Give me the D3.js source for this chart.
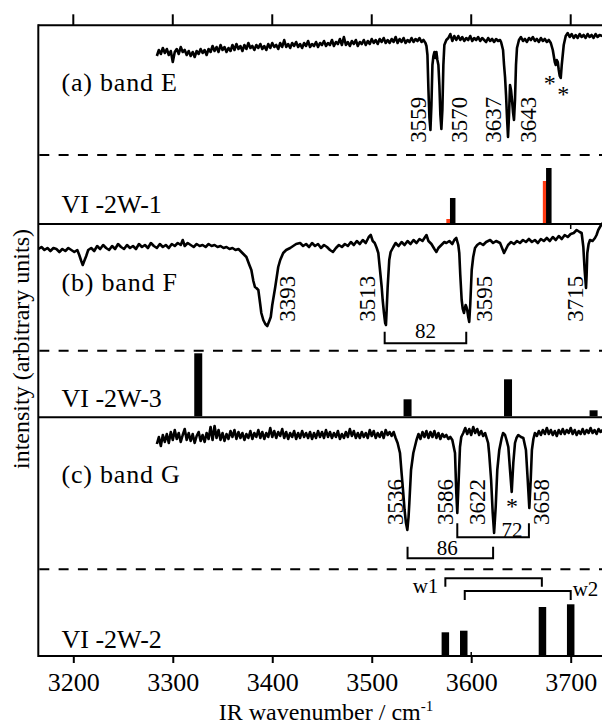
<!DOCTYPE html>
<html>
<head>
<meta charset="utf-8">
<script src="https://cdn.jsdelivr.net/npm/d3@7"></script>
<style>
  body { margin: 0; background: #fff; }
  text { font-family: "Liberation Serif", "Times New Roman", serif; fill: #000; }
</style>
</head>
<body>
<div id="chart"></div>
<script>
// 1: DATA
const xTicks = [3200, 3300, 3400, 3500, 3600, 3700];

// band E spectrum [wavenumber, intensity]
const bandE = [
  [3284,84],[3286,90],[3288,86],[3290,92],[3292,87],[3294,91],[3296,85],[3298,89],[3300,78],[3302,88],
  [3304,91],[3306,86],[3308,93],[3310,88],[3312,90],[3314,85],[3316,89],[3318,84],[3320,88],[3322,83],
  [3324,89],[3326,86],[3328,91],[3330,87],[3332,90],[3334,85],[3336,91],[3338,88],[3340,94],[3342,89],
  [3344,93],[3346,88],[3348,95],[3350,90],[3352,93],[3354,88],[3356,92],[3358,89],[3360,95],[3362,90],
  [3364,96],[3366,91],[3368,94],[3370,89],[3372,95],[3374,91],[3376,97],[3378,92],[3380,94],[3382,90],
  [3384,95],[3386,92],[3388,96],[3390,91],[3392,94],[3394,90],[3396,96],[3398,92],[3400,97],[3402,93],
  [3404,95],[3406,91],[3408,97],[3410,93],[3412,100],[3414,93],[3416,96],[3418,92],[3420,97],[3422,94],
  [3424,98],[3426,93],[3428,96],[3430,92],[3432,97],[3434,94],[3436,99],[3438,93],[3440,96],[3442,94],
  [3444,98],[3446,93],[3448,97],[3450,95],[3452,99],[3454,94],[3456,97],[3458,95],[3460,100],[3462,94],
  [3464,98],[3466,96],[3468,101],[3470,95],[3472,103],[3474,95],[3476,98],[3478,94],[3480,99],[3482,96],
  [3484,100],[3486,94],[3488,98],[3490,96],[3492,100],[3494,95],[3496,99],[3498,96],[3500,101],[3502,97],
  [3504,100],[3506,96],[3508,101],[3510,98],[3512,102],[3514,97],[3516,100],[3518,97],[3520,101],[3522,98],
  [3524,103],[3526,97],[3528,101],[3530,98],[3532,102],[3534,97],[3536,100],[3538,98],[3540,102],[3542,98],
  [3544,101],[3546,99],[3548,102],[3550,98],[3552,100],[3554,97],[3555,94],[3556,85],[3557,50],[3558,22],
  [3559,10],[3560,35],[3561,75],[3562,84],[3563,88],[3564,82],[3565,88],[3566,80],[3567,75],[3568,55],
  [3569,25],[3570,11],[3571,30],[3572,75],[3573,95],[3575,100],[3577,102],[3579,106],[3581,99],[3583,104],
  [3585,100],[3587,104],[3589,100],[3591,103],[3593,99],[3595,102],[3597,100],[3599,104],[3601,99],[3603,102],
  [3605,100],[3607,103],[3609,99],[3611,102],[3613,100],[3615,98],[3617,102],[3619,99],[3621,101],[3623,98],
  [3625,101],[3627,99],[3629,100],[3630,98],[3632,90],[3633,75],[3634,63],[3635,45],[3636,22],[3637,3],
  [3638,25],[3639,55],[3640,50],[3641,40],[3642,28],[3643,20],[3644,40],[3645,75],[3646,92],[3648,100],
  [3650,103],[3652,99],[3654,101],[3656,98],[3658,102],[3660,100],[3662,103],[3664,99],[3666,101],[3668,98],
  [3670,102],[3672,99],[3674,101],[3676,98],[3678,100],[3680,97],[3682,90],[3684,78],[3685,75],[3686,80],
  [3687,78],[3688,70],[3689,64],[3690,62],[3691,75],[3693,95],[3695,104],[3697,107],[3699,103],[3701,106],
  [3703,102],[3705,105],[3707,102],[3709,106],[3711,103],[3713,105],[3715,102],[3717,106],[3719,103],[3721,105],
  [3723,102],[3725,106],[3727,103],[3729,105],[3732,104]
];

// band F spectrum
const bandF = [
  [3165,96],[3168,98],[3171,95],[3174,97],[3177,94],[3180,97],[3183,96],[3186,93],[3189,96],[3192,94],
  [3195,97],[3198,95],[3201,93],[3204,95],[3206,90],[3208,84],[3209.5,80],[3211,84],[3213,89],[3215,95],
  [3218,97],[3221,94],[3224,99],[3227,96],[3230,100],[3233,97],[3236,95],[3239,99],[3242,96],[3245,101],
  [3248,98],[3251,96],[3254,100],[3257,97],[3260,99],[3263,96],[3266,101],[3269,98],[3272,100],[3275,97],
  [3278,102],[3281,99],[3284,97],[3287,101],[3290,98],[3293,100],[3296,97],[3299,101],[3302,99],[3305,102],
  [3308,100],[3310,105],[3312,99],[3315,102],[3318,100],[3321,98],[3324,101],[3327,99],[3330,100],[3333,98],
  [3336,101],[3339,99],[3342,100],[3345,98],[3348,99],[3351,97],[3354,98],[3357,96],[3360,97],[3363,95],
  [3366,96],[3368,94],[3371,91],[3374,88],[3377,80],[3379,75],[3381,64],[3382.6,58],[3384,57],[3386,55],
  [3388,40],[3389,32],[3391,25],[3393,21],[3395,19],[3397,24],[3398.5,28],[3400,40],[3403,58],[3406,78],
  [3408,85],[3411,92],[3414,95],[3418,97],[3421,99],[3424,101],[3428,102],[3431,99],[3434,101],[3437,98],
  [3440,102],[3443,99],[3446,101],[3449,97],[3452,100],[3455,98],[3458,95],[3461,93],[3464,97],[3467,100],
  [3470,98],[3473,101],[3476,99],[3479,103],[3482,100],[3485,104],[3488,101],[3491,105],[3494,102],[3497,108],
  [3499,110],[3501,104],[3503,102],[3505,97],[3506.6,92],[3508,78],[3510,58],[3511,45],[3512.3,32],[3513.5,22],
  [3514.3,20],[3515,35],[3516,58],[3517.6,85],[3519,93],[3521.7,98],[3524,102],[3527,99],[3530,103],[3533,100],
  [3536,104],[3539,101],[3542,105],[3545,102],[3548,106],[3551,104],[3555,110],[3557,104],[3560,101],[3563,96],
  [3565,93],[3567,97],[3570,100],[3573,103],[3575,102],[3578,104],[3581,101],[3583,105],[3585,107],[3587,100],
  [3588,92],[3589,70],[3590.4,45],[3591.5,36],[3592.7,32],[3593.5,36],[3594.4,40],[3595.2,38],[3596,35],[3597,28],
  [3598,23],[3599,40],[3600.5,75],[3602,88],[3603.8,97],[3606,100],[3608.8,102],[3612,100],[3615,103],[3619,105],
  [3622,102],[3625,104],[3629,102],[3631,97],[3633,92],[3635,96],[3637,100],[3640,103],[3643,101],[3646,104],
  [3649,102],[3652,105],[3655,103],[3658,106],[3661,103],[3664,105],[3667,102],[3670,106],[3673,104],[3676,107],
  [3679,104],[3682,108],[3685,105],[3688,109],[3691,106],[3694,110],[3697,108],[3700,111],[3703,112],[3706,115],
  [3709,113],[3711,112],[3712.7,98],[3714,75],[3715.4,57],[3716,70],[3716.7,92],[3718,101],[3719.4,105],[3722,104],
  [3724.4,107],[3726,110],[3727.7,115],[3730,119],[3732,122]
];

// band G spectrum
const bandG = [
  [3284,91],[3286,98],[3288,89],[3290,100],[3292,93],[3294,101],[3296,92],[3298,103],[3300,95],[3302,105],
  [3304,96],[3306,102],[3308,93],[3310,100],[3312,106],[3314,95],[3316,102],[3318,94],[3320,101],[3322,92],
  [3324,99],[3326,103],[3328,94],[3330,100],[3332,93],[3334,102],[3336,96],[3338,108],[3340,95],[3342,109],
  [3344,97],[3346,105],[3348,95],[3350,102],[3352,94],[3354,101],[3356,96],[3358,104],[3360,98],[3362,105],
  [3364,96],[3366,103],[3368,97],[3370,102],[3372,95],[3374,101],[3376,97],[3378,104],[3380,96],[3382,102],
  [3384,98],[3386,105],[3388,97],[3390,103],[3392,96],[3394,102],[3396,98],[3398,107],[3400,98],[3402,104],
  [3404,97],[3406,103],[3408,99],[3410,106],[3412,97],[3414,103],[3416,96],[3418,102],[3420,98],[3422,104],
  [3424,96],[3426,102],[3428,97],[3430,104],[3432,98],[3434,102],[3436,97],[3438,103],[3440,96],[3442,102],
  [3444,97],[3446,104],[3448,98],[3450,103],[3452,97],[3454,105],[3456,98],[3458,103],[3460,97],[3462,102],
  [3464,98],[3466,104],[3468,96],[3470,101],[3472,97],[3474,103],[3476,98],[3478,106],[3480,99],[3482,104],
  [3484,97],[3486,102],[3488,97],[3490,103],[3492,98],[3494,102],[3496,97],[3498,105],[3500,99],[3502,104],
  [3504,97],[3506,102],[3508,98],[3510,103],[3512,97],[3514,105],[3516,100],[3518,103],[3520,99],[3522,103],
  [3524,97],[3526,92],[3528.4,82],[3530,62],[3531.7,42],[3533,25],[3534.4,12],[3535.8,5],[3537,18],[3537.8,32],
  [3539.5,65],[3541.8,82],[3545,95],[3547,101],[3549,96],[3551,103],[3553,98],[3555,104],[3557,97],[3559,103],
  [3561,98],[3563,104],[3565,97],[3567,102],[3569,96],[3571,101],[3573,98],[3575,100],[3577,96],[3579,98],
  [3581,95],[3583.7,82],[3585,42],[3586,22],[3587.4,55],[3588.7,88],[3590,98],[3592,102],[3594,107],[3596,101],
  [3598,106],[3600,100],[3602,108],[3604,102],[3606,106],[3608,100],[3610,104],[3612,99],[3614,102],[3615.5,97],
  [3617,92],[3618,82],[3620,55],[3621.6,22],[3623,2],[3624.6,28],[3626.2,65],[3628.2,85],[3630.6,97],[3632,102],
  [3634,100],[3635.5,95],[3637.3,88],[3639,65],[3640.7,43],[3642.3,72],[3644,92],[3645.5,97],[3647.3,100],[3650,98],
  [3652.4,97],[3655,85],[3656.8,55],[3658.4,27],[3659.8,55],[3661,85],[3662.5,96],[3664,102],[3666,99],[3668,104],
  [3670,100],[3672,105],[3674,101],[3676,107],[3678,101],[3680,105],[3682,100],[3684,104],[3686,99],[3688,105],
  [3690,101],[3692,106],[3694,101],[3696,105],[3698,102],[3700,107],[3702,101],[3704,105],[3706,100],[3708,104],
  [3710,101],[3712,106],[3714,101],[3716,105],[3718,102],[3720,107],[3722,102],[3724,105],[3726,101],[3728,106],
  [3730,103],[3732,105]
];

// calculated sticks (wavenumber, intensity)
const w1Black = [3581.4, 3678];
const i1Black = [250, 550];
const w1Red = [3577, 3674];
const i1Red = [40, 420];
const w3 = [3325.6, 3536, 3637, 3723];
const i3 = [630, 170, 370, 60];
const w2 = [3574, 3592.5, 3671.6, 3700];
const i2 = [227, 243, 480, 507];

// peak labels
const peaksE = [3559, 3570, 3637, 3643];
const peaksF = [3393, 3513, 3595, 3715];
const peaksG = [3536, 3586, 3622, 3658];

// 2: LAYOUT
const W = 602, H = 724;
const xLeft = 38.3;
const yTop = 25.3, yAB = 224, yBC = 417.3, yBottom = 656;
const yDash = [155, 350.7, 569.3];

const svg = d3.select("#chart").append("svg")
  .attr("width", W).attr("height", H)
  .attr("font-family", '"Liberation Serif", "Times New Roman", serif');

// 3: SCALES
const x = d3.scaleLinear().domain([3200, 3700]).range([73.3, 570.7]);
const yA = d3.scaleLinear().domain([0, 110]).range([140, 30]);
const yB = d3.scaleLinear().domain([0, 125]).range([345, 220]);
const yC = d3.scaleLinear().domain([0, 110]).range([535, 425]);
const hStick = d3.scaleLinear().domain([0, 1000]).range([0, 100]);

// 4: SPECTRA
function drawSpec(data, y) {
  const line = d3.line().x(d => x(d[0])).y(d => y(d[1]));
  svg.append("path")
    .datum(data)
    .attr("fill", "none")
    .attr("stroke", "#000")
    .attr("stroke-width", 2.6)
    .attr("stroke-linejoin", "round")
    .attr("d", line);
}
drawSpec(bandE, yA);
drawSpec(bandF, yB);
drawSpec(bandG, yC);

// sticks
function drawSticks(ws, is, base, bw, color) {
  svg.append("g").selectAll("rect")
    .data(ws.map((w, i) => ({ w, v: is[i] })))
    .join("rect")
    .attr("x", d => x(d.w) - bw / 2)
    .attr("y", d => base - hStick(d.v))
    .attr("width", bw)
    .attr("height", d => hStick(d.v))
    .attr("fill", color);
}
drawSticks(w1Red, i1Red, yAB - 1, 4, "#ff3a12");
drawSticks(w1Black, i1Black, yAB - 1, 5.5, "#000");
drawSticks(w3, i3, yBC - 1, 8, "#000");
drawSticks(w2, i2, yBottom - 1, 7.5, "#000");

// 5: FRAME AND AXES
[yTop, yAB, yBC, yBottom].forEach(yy => {
  svg.append("line")
    .attr("x1", xLeft).attr("x2", W + 5)
    .attr("y1", yy).attr("y2", yy)
    .attr("stroke", "#000").attr("stroke-width", 2);
});
svg.append("line")
  .attr("x1", xLeft).attr("x2", xLeft)
  .attr("y1", yTop - 1).attr("y2", yBottom + 1)
  .attr("stroke", "#000").attr("stroke-width", 2);

yDash.forEach(yy => {
  svg.append("line")
    .attr("x1", xLeft + 1).attr("x2", W)
    .attr("y1", yy).attr("y2", yy)
    .attr("stroke", "#000").attr("stroke-width", 2)
    .attr("stroke-dasharray", "10,9.3");
});

// top ticks (outward)
svg.append("g").selectAll("line")
  .data(xTicks).join("line")
  .attr("x1", d => x(d)).attr("x2", d => x(d))
  .attr("y1", yTop).attr("y2", yTop - 11)
  .attr("stroke", "#000").attr("stroke-width", 2);

// bottom axis
const xAxis = d3.axisBottom(x).tickValues(xTicks).tickSize(7).tickPadding(6).tickFormat(d3.format("d"));
const gx = svg.append("g").attr("transform", `translate(0,${yBottom})`).call(xAxis);
gx.attr("font-family", null);
gx.select(".domain").remove();
gx.selectAll(".tick line").attr("stroke-width", 2);
gx.selectAll(".tick text")
  .attr("y", 35)
  .attr("dy", null)
  .style("font-size", "26px");

// small stray ticks in the original
svg.append("line").attr("x1", x(3600)).attr("x2", x(3600))
  .attr("y1", yBottom).attr("y2", yBottom - 4).attr("stroke", "#000").attr("stroke-width", 1.5);
svg.append("line").attr("x1", x(3700)).attr("x2", x(3700))
  .attr("y1", yAB).attr("y2", yAB + 5).attr("stroke", "#000").attr("stroke-width", 1.5);

// 6: LABELS
const panelText = [
  ["(a) band E", 90.7, 0.8], ["VI -2W-1", 213.3, 0],
  ["(b) band F", 290.7, 0.8], ["VI -2W-3", 406.7, 0],
  ["(c) band G", 482.7, 0.8], ["VI -2W-2", 648.3, 0]
];
panelText.forEach(([t, yy, ls]) => {
  svg.append("text").attr("x", 61.5).attr("y", yy)
    .style("font-size", "26px")
    .style("letter-spacing", ls + "px")
    .text(t);
});

// peak labels, rotated
function peakLabels(peaks, dx, yb) {
  peaks.forEach((p, i) => {
    svg.append("text")
      .attr("transform", `translate(${x(p) + dx[i]},${yb}) rotate(-90)`)
      .style("font-size", "23px")
      .text(p);
  });
}
peakLabels(peaksE, [-4, 26, -7.3, 22], 142.7);
peakLabels(peaksF, [29.7, -9.4, 26, -3], 321.7);
peakLabels(peaksG, [-5, -4.6, -8, 20.4], 525);

// asterisks
[[3679, 90.5], [3692.5, 101.5], [3641, 514]].forEach(([w, yy]) => {
  svg.append("text").attr("x", x(w)).attr("y", yy)
    .attr("text-anchor", "middle").style("font-size", "24px").text("*");
});

// brackets
function bracket(w0, w1, yLine, yEnd, label, wl, yl) {
  svg.append("path")
    .attr("d", `M${x(w0)},${yEnd}V${yLine}H${x(w1)}V${yEnd}`)
    .attr("fill", "none").attr("stroke", "#000").attr("stroke-width", 2);
  if (label) {
    svg.append("text").attr("x", x(wl)).attr("y", yl)
      .attr("text-anchor", "middle").style("font-size", "21px").text(label);
  }
}
bracket(3513, 3595, 343.3, 331.7, "82", 3554, 338.3);
bracket(3586, 3658, 537.3, 523.3, "72", 3641, 537);
bracket(3536, 3622, 558.3, 546.7, "86", 3576, 555);
bracket(3574, 3671, 578.3, 586.7, null);
bracket(3593.5, 3700, 591, 600, null);
svg.append("text").attr("x", 438.3).attr("y", 593).attr("text-anchor", "end")
  .style("font-size", "21px").text("w1");
svg.append("text").attr("x", 572.7).attr("y", 596)
  .style("font-size", "21px").text("w2");

// axis titles
const xt = svg.append("text").attr("x", 326).attr("y", 720)
  .attr("text-anchor", "middle").style("font-size", "24px");
xt.append("tspan").text("IR wavenumber / cm");
xt.append("tspan").attr("dy", -9).style("font-size", "15px").text("-1");

svg.append("text")
  .attr("transform", "rotate(-90)")
  .attr("x", -349).attr("y", 29)
  .attr("text-anchor", "middle")
  .style("font-size", "24px")
  .text("intensity (arbitrary units)");
</script>
</body>
</html>
